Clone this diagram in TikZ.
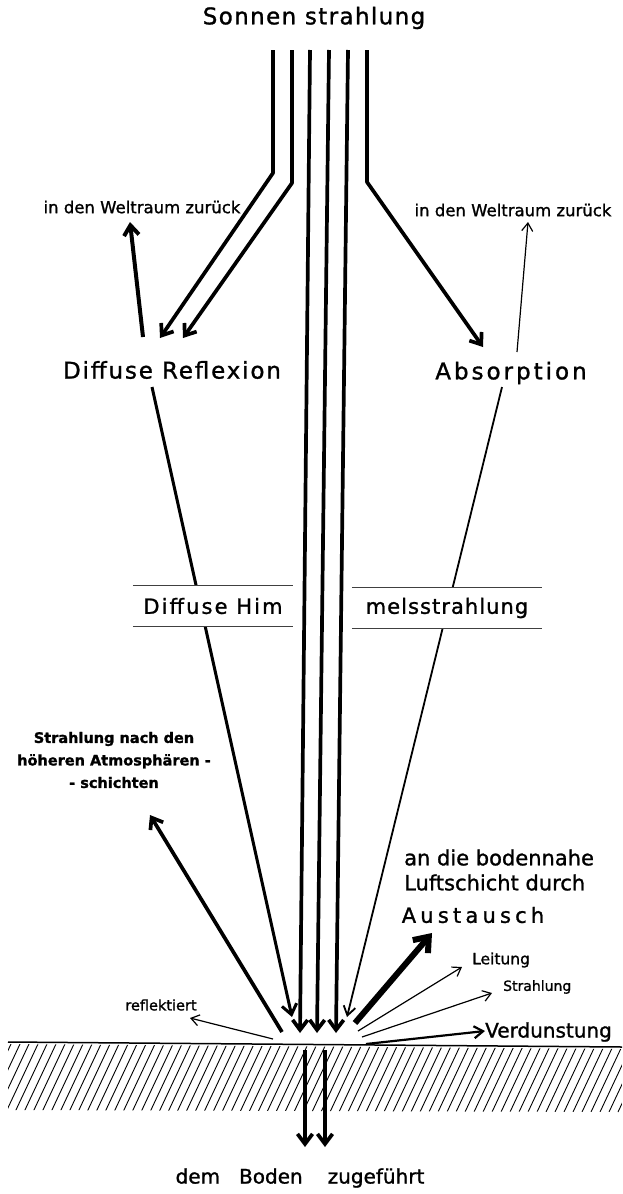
\documentclass[tikz,border=0pt]{standalone}
\usepackage{fontspec}
\setmainfont{DejaVu Sans}[FakeBold=1.2]
\usepackage{tikz}
\usetikzlibrary{arrows.meta, positioning, calc}

\tikzset{
  lbl/.style={inner sep=1pt},
  spaced/.style={inner sep=1pt, font=\fontsize{23}{27}\selectfont\addfontfeatures{LetterSpace=#1}},
  spaced/.default=8,
  beam/.style={line width=3.7pt, line join=round, -{Straight Barb[length=10pt,width=15pt]}},
  fatarr/.style={line width=6pt, -{Straight Barb[length=13pt,width=20pt]}},
  medarr/.style={line width=2.2pt, -{Straight Barb[length=9pt,width=12pt]}},
  thinarr/.style={line width=1.2pt, -{Straight Barb[length=8pt,width=11pt]}},
  band/.style={fill=white, inner sep=0pt, minimum height=41pt,
    font=\fontsize{21}{25}\selectfont\addfontfeatures{LetterSpace=10}},
  bandline/.style={line width=1pt, black!75},
  hatchline/.style={line width=0.9pt},
}

\begin{document}
\begin{tikzpicture}[x=1pt, y=-1pt]
    \useasboundingbox (0,0) rectangle (622,1194);

    % Beschriftungen
    \node[spaced=6] (sun) at (314,18) {Sonnen strahlung};
    \node[spaced] (refl) at (172,370) {Diffuse Reflexion};
    \node[spaced=13] (absn) at (511,373) {Absorption};
    \node[lbl, font=\fontsize{16.5}{20}\selectfont] (spaceL) at (142,207) {in den Weltraum zurück};
    \node[lbl, font=\fontsize{16.5}{20}\selectfont] (spaceR) at (513,210) {in den Weltraum zurück};
    \node[lbl, font=\bfseries\fontsize{14.5}{22.5}\selectfont, align=center] (upper) at (114,760)
        {Strahlung nach den\\höheren Atmosphären -\\- schichten};
    \node[lbl, font=\fontsize{21}{25}\selectfont, align=left, anchor=west] (air) at (403,870)
        {an die bodennahe\\Luftschicht durch};
    \node[lbl, font=\fontsize{21}{25}\selectfont\addfontfeatures{LetterSpace=20}] (aust) at (473,915) {Austausch};
    \node[lbl, font=\fontsize{15.5}{18}\selectfont, anchor=west] (leit) at (471,960) {Leitung};
    \node[lbl, font=\fontsize{14}{17}\selectfont, anchor=west] (strl) at (502,987) {Strahlung};
    \node[lbl, font=\fontsize{20}{24}\selectfont, anchor=west] (verd) at (484,1032) {Verdunstung};
    \node[lbl, font=\fontsize{14.5}{17}\selectfont] (refk) at (161,1005) {reflektiert};
    \node[lbl, font=\fontsize{20}{24}\selectfont] (boden) at (300,1178)
        {dem\hspace{0.95em}Boden\hspace{1.25em}zugeführt};

    % Strahlenbuendel
    \coordinate (s1) at (273,50); \coordinate (k1) at (273,173); \coordinate (e1) at (160,338);
    \coordinate (s2) at (292,50); \coordinate (k2) at (292,183); \coordinate (e2) at (183,338);
    \coordinate (s6) at (367,50); \coordinate (k6) at (367,182); \coordinate (e6) at (483,347);
    \foreach \n/\a/\b in {3/310/300, 4/329/317, 5/348/336} {
        \coordinate (s\n) at (\a,50);
        \coordinate (e\n) at (\b,1033);
    }
    \draw[beam] (s1) -- (k1) -- (e1);
    \draw[beam] (s2) -- (k2) -- (e2);
    \draw[beam] (s6) -- (k6) -- (e6);
    \foreach \n in {3,4,5}
        \draw[beam] (s\n) -- (e\n);

    % Reflexion und Absorption
    \coordinate (r0) at (143,337); \coordinate (r1) at (130,222);
    \coordinate (a0) at (517,352); \coordinate (a1) at (528,222);
    \coordinate (r2) at (152,387); \coordinate (r3) at (292,1017);
    \coordinate (a2) at (502,387); \coordinate (a3) at (347,1017);
    \draw[beam, line width=4pt] (r0) -- (r1);
    \draw[thinarr] (a0) -- (a1);
    \draw[beam, line width=3pt] (r2) -- (r3);
    \draw[medarr, line width=1.8pt] (a2) -- (a3);

    % Himmelsstrahlung (verdeckt die Linien)
    \node[band, minimum width=160pt] (himL) at (213,606) {Diffuse Him};
    \node[band, minimum width=190pt, font=\fontsize{21}{25}\selectfont\addfontfeatures{LetterSpace=5}] (himR) at (447,608) {melsstrahlung};
    \draw[bandline] (himL.north west) -- (himL.north east);
    \draw[bandline] (himL.south west) -- (himL.south east);
    \draw[bandline] (himR.north west) -- (himR.north east);
    \draw[bandline] (himR.south west) -- (himR.south east);

    % Abgabe am Boden
    \coordinate (g1) at (282,1032); \coordinate (u1) at (150,815);
    \coordinate (g2) at (273,1039); \coordinate (u2) at (190,1018);
    \coordinate (g3) at (355,1023); \coordinate (u3) at (432,933);
    \coordinate (g4) at (358,1031); \coordinate (u4) at (462,967);
    \coordinate (g5) at (362,1037); \coordinate (u5) at (492,993);
    \coordinate (g6) at (366,1044); \coordinate (u6) at (485,1031);
    \draw[beam] (g1) -- (u1);
    \draw[thinarr] (g2) -- (u2);
    \draw[fatarr] (g3) -- (u3);
    \draw[thinarr] (g4) -- (u4);
    \draw[thinarr] (g5) -- (u5);
    \draw[medarr] (g6) -- (u6);

    % Erdboden
    \coordinate (gl) at (8,1042);
    \coordinate (gr) at (622,1047);
    \draw[line width=1.5pt] (gl) -- (gr);
    \begin{scope}
        \clip (8,1044) -- (622,1049) -- (622,1112) -- (8,1110) -- cycle;
        \foreach \k in {0,...,72}
            \draw[hatchline] (\k*9-30,1112) -- ++(32,-68);
    \end{scope}

    % dem Boden zugefuehrt
    \coordinate (d1) at (305,1050); \coordinate (f1) at (305,1147);
    \coordinate (d2) at (325,1050); \coordinate (f2) at (325,1147);
    \draw[beam] (d1) -- (f1);
    \draw[beam] (d2) -- (f2);
\end{tikzpicture}
\end{document}
